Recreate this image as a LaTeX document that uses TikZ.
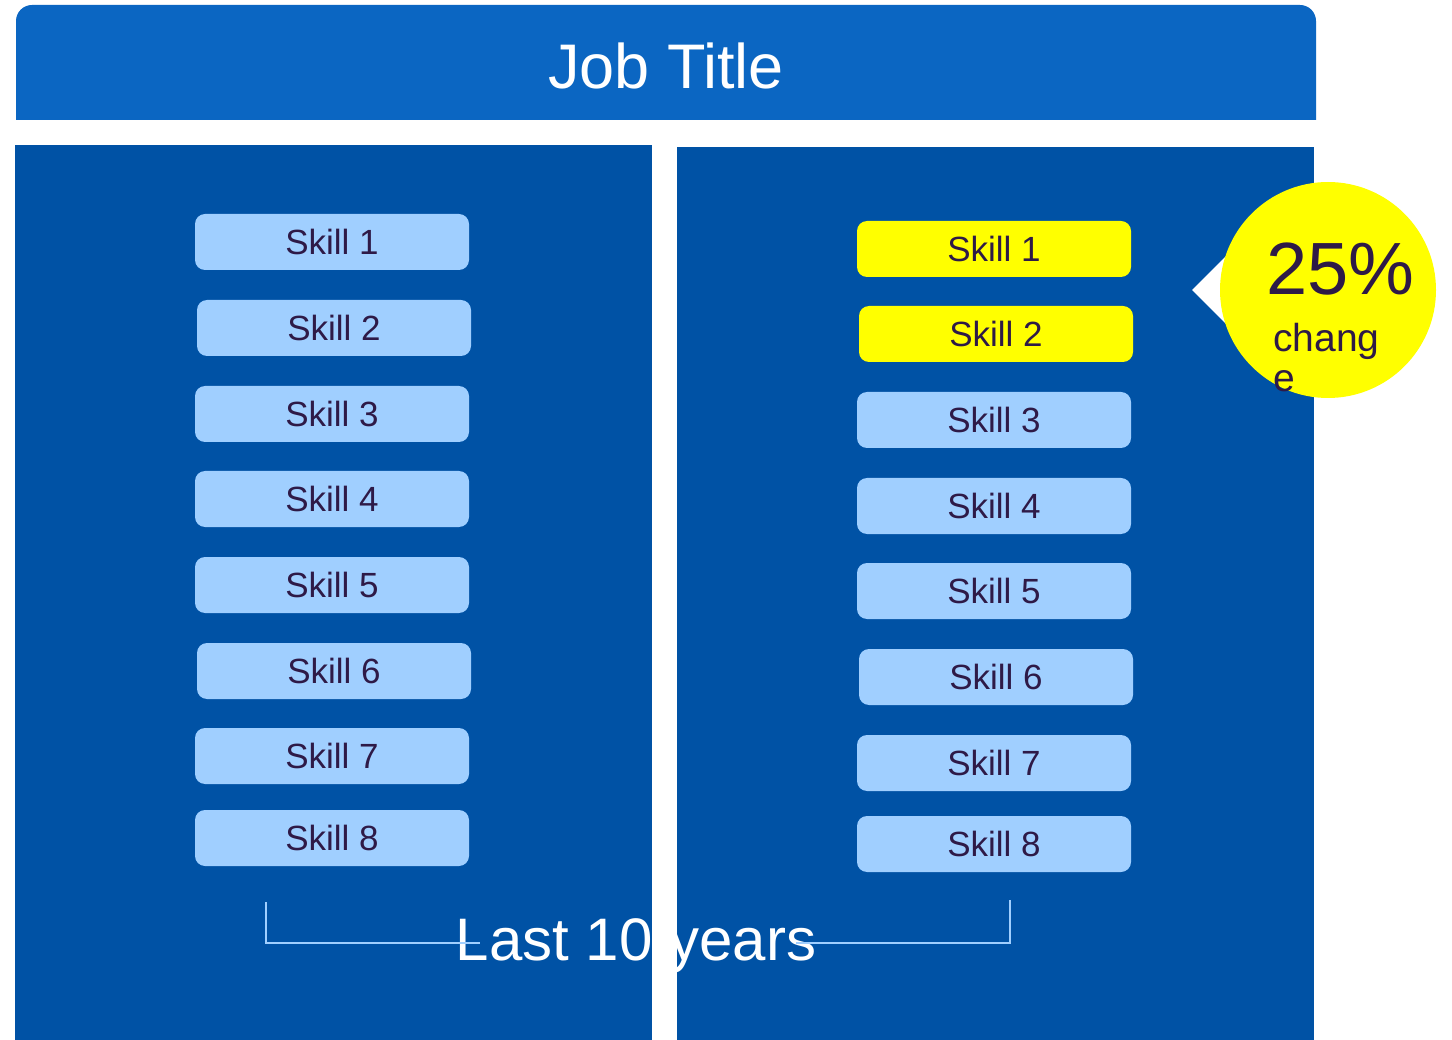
\documentclass[tikz,border=0pt]{standalone}
\usepackage{fontspec}
\setmainfont{Liberation Sans}
\definecolor{headblue}{HTML}{0B66C2}
\definecolor{panelblue}{HTML}{0052A5}
\definecolor{skillblue}{HTML}{A0CFFF}
\definecolor{hiyellow}{HTML}{FFFF00}
\definecolor{darktext}{HTML}{2E1A47}
\tikzset{
  skillbox/.style={fill=skillblue, rounded corners=10pt, minimum width=274pt, minimum height=56pt, inner sep=0pt, text=darktext, font=\fontsize{35}{40}\selectfont},
  hibox/.style={skillbox, fill=hiyellow},
  bracketline/.style={draw=skillblue, line width=2pt}
}
\begin{document}
\begin{tikzpicture}[x=1pt,y=-1pt]
\useasboundingbox[fill=white] (0,0) rectangle (1452,1040);
% header
\fill[headblue] (16,120) [rounded corners=16pt] -- (16,5) -- (1316,5) [sharp corners] -- (1316,120) -- cycle;
\node[anchor=base, text=white, font=\fontsize{63}{70}\selectfont] (title) at (666,89) {Job Title};
% panels
\fill[panelblue] (15,145) rectangle (652,1040);
\fill[panelblue] (677,147) rectangle (1314,1040);
% left skills
\node[skillbox] (l1) at (332,242) {Skill 1};
\node[skillbox] (l2) at (334,328) {Skill 2};
\node[skillbox] (l3) at (332,414) {Skill 3};
\node[skillbox] (l4) at (332,499) {Skill 4};
\node[skillbox] (l5) at (332,585) {Skill 5};
\node[skillbox] (l6) at (334,671) {Skill 6};
\node[skillbox] (l7) at (332,756) {Skill 7};
\node[skillbox] (l8) at (332,838) {Skill 8};
% right skills
\node[hibox] (r1) at (994,249) {Skill 1};
\node[hibox] (r2) at (996,334) {Skill 2};
\node[skillbox] (r3) at (994,420) {Skill 3};
\node[skillbox] (r4) at (994,506) {Skill 4};
\node[skillbox] (r5) at (994,591) {Skill 5};
\node[skillbox] (r6) at (996,677) {Skill 6};
\node[skillbox] (r7) at (994,763) {Skill 7};
\node[skillbox] (r8) at (994,844) {Skill 8};
% callout
\coordinate (tip) at (1192,290);
\fill[white] (tip) -- (1232,250) -- (1232,330) -- cycle;
\node[circle, fill=hiyellow, minimum size=216pt, inner sep=0pt] (bubble) at (1328,290) {};
\node[anchor=base west, text=darktext, font=\fontsize{74}{80}\selectfont, inner sep=0pt] (pct) at (1266,295) {25\%};
\node[anchor=base west, text=darktext, font=\fontsize{39}{40}\selectfont, inner sep=0pt] (chg1) at (1273,352) {chang};
\node[anchor=base west, text=darktext, font=\fontsize{39}{40}\selectfont, inner sep=0pt] (chg2) at (1273,392) {e};
% bottom label and bracket
\node[anchor=base, text=white, font=\fontsize{60}{66}\selectfont, inner sep=0pt] (last) at (636,960) {Last 10 years};
\coordinate (bl0) at (266,902);
\coordinate (bl1) at (266,943);
\coordinate (bl2) at (480,943);
\coordinate (br0) at (1010,900);
\coordinate (br1) at (1010,943);
\coordinate (br2) at (796,943);
\draw[bracketline] (bl0) -- (bl1) -- (bl2);
\draw[bracketline] (br0) -- (br1) -- (br2);
% gap between panels
\fill[white] (652,145) rectangle (677,1040);
\end{tikzpicture}
\end{document}
